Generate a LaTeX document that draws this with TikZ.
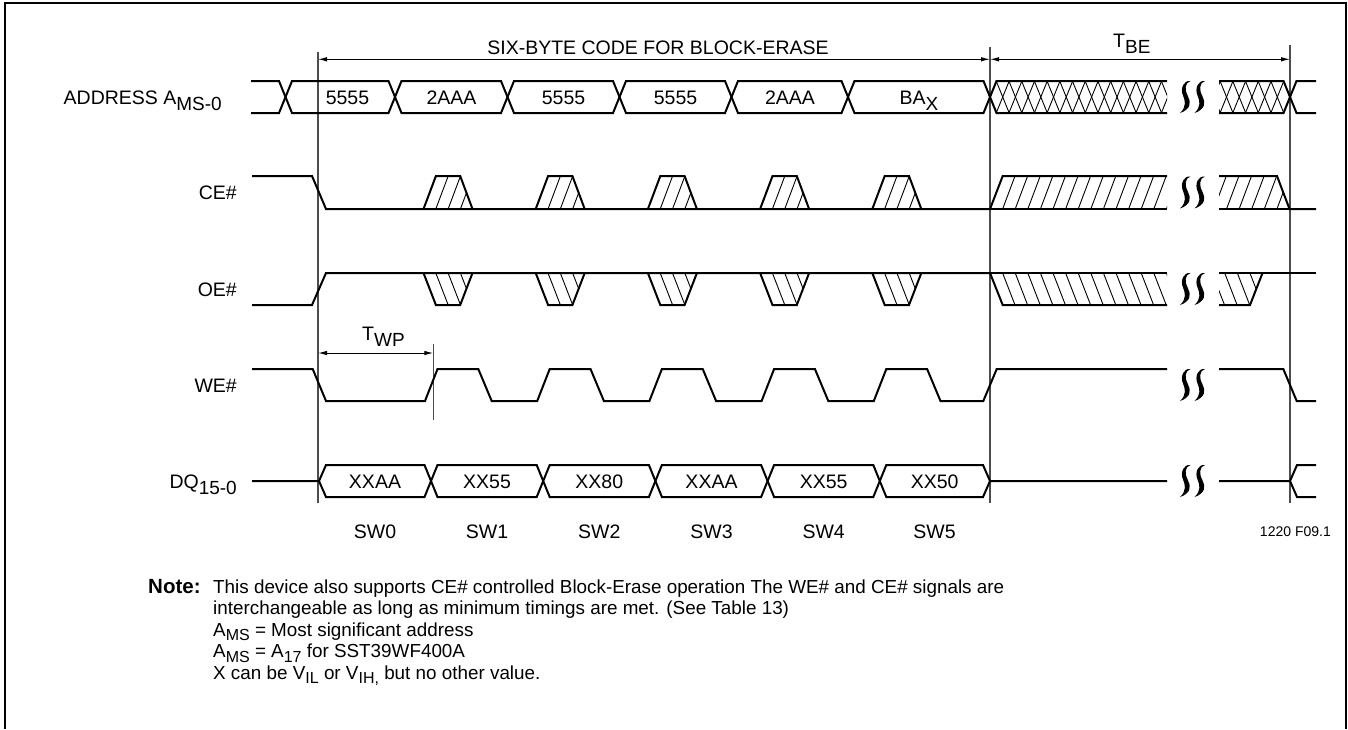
\documentclass[tikz,border=0pt]{standalone}
\usepackage{fontspec}
\setmainfont{Liberation Sans}
\usetikzlibrary{arrows.meta}
\newcommand{\fbig}{\fontsize{19.5}{23}\selectfont}
\newcommand{\fnote}{\fontsize{18.85}{21.5}\selectfont}
\newcommand{\lsub}[1]{\raisebox{-6.5pt}{\fontsize{19}{19}\selectfont #1}}
\newcommand{\nsub}[1]{\raisebox{-4.5pt}{\fontsize{16}{16}\selectfont #1}}
\newcommand{\squig}[2]{%
  \fill ({#1+11},{#2+0.5}) .. controls ({#1+4},{#2-0.5}) and ({#1+0.5},{#2+8}) .. ({#1+3.5},{#2+15})
    .. controls ({#1+5.5},{#2+20}) and ({#1+7.5},{#2+26}) .. ({#1+0.5},{#2+32.5})
    .. controls ({#1+11},{#2+29}) and ({#1+12},{#2+22}) .. ({#1+8.5},{#2+16})
    .. controls ({#1+5},{#2+10}) and ({#1+5},{#2+2}) .. ({#1+11},{#2+0.5}) -- cycle;}
\newcommand{\squigpair}[1]{\squig{1179.5}{#1}\squig{1194}{#1}}
\begin{document}
\begin{tikzpicture}[x=1pt,y=-1pt,
  sig/.style={line width=2pt},
  hatch/.style={line width=0.9pt},
  ref/.style={line width=1.2pt,draw=black!70},
  dim/.style={line width=1pt,{Latex[length=9pt,width=4.5pt]}-{Latex[length=9pt,width=4.5pt]}},
  lbl/.style={inner sep=0pt,font=\fbig},
  note/.style={inner sep=0pt,font=\fnote,anchor=base west}]
\useasboundingbox (0,0) rectangle (1348,729);
% frame
\draw[line width=2.6pt] (5,729) -- (5,3) -- (1346,3) -- (1346,729);

% reference lines
\coordinate (t0) at (318,52);   \coordinate (b0) at (318,503);
\coordinate (t1) at (990,47);   \coordinate (b1) at (990,503);
\coordinate (t2) at (1290,45);  \coordinate (b2) at (1290,503);
\coordinate (tw) at (433.3,344); \coordinate (bw) at (433.3,420);
\draw[ref] (t0) -- (b0);
\draw[ref] (t1) -- (b1);
\draw[ref] (t2) -- (b2);
\draw[ref] (tw) -- (bw);

% dimension arrows
\coordinate (a0) at (318,59.3); \coordinate (a1) at (990,59.3); \coordinate (a2) at (1290,59.3);
\draw[dim] (a0) -- (a1);
\draw[dim] (a1) -- (a2);
\coordinate (w0) at (318,353); \coordinate (w1) at (433.3,353);
\draw[dim] (w0) -- (w1);
\node[lbl,anchor=base] (six) at (658,54.5) {SIX-BYTE CODE FOR BLOCK-ERASE};
\node[lbl,anchor=base west] (tbe) at (1113,47) {T\lsub{BE}};
\node[lbl,anchor=base west] (twp) at (362,340) {T\lsub{WP}};

% row labels
\node[lbl,anchor=base east] (laddr) at (222,104) {ADDRESS A\lsub{MS-0}};
\node[lbl,anchor=base east] (lce) at (237,199.5) {CE\#};
\node[lbl,anchor=base east] (loe) at (237,296) {OE\#};
\node[lbl,anchor=base east] (lwe) at (237,392) {WE\#};
\node[lbl,anchor=base east] (ldq) at (237,488) {DQ\lsub{15-0}};

% ---------- ADDRESS ----------
\draw[sig] (251,81) -- (279,81) -- (292,113) -- (388.5,113) -- (401.5,81) -- (501,81) -- (514,113)
  -- (613,113) -- (626,81) -- (725,81) -- (738,113) -- (841.5,113) -- (854.5,81) -- (983.5,81)
  -- (996.5,113) -- (1167,113);
\draw[sig] (251,113) -- (279,113) -- (292,81) -- (388.5,81) -- (401.5,113) -- (501,113) -- (514,81)
  -- (613,81) -- (626,113) -- (725,113) -- (738,81) -- (841.5,81) -- (854.5,113) -- (983.5,113)
  -- (996.5,81) -- (1167,81);
\begin{scope}
  \clip (990,81) rectangle (1167,113);
  \foreach \k in {0,...,14} {
    \draw[hatch] ({983.5+\k*12.7},81) -- ++(13,32);
    \draw[hatch] ({983.5+\k*12.7},113) -- ++(13,-32);
  }
\end{scope}
\draw[sig] (1219,81) -- (1283.5,81) -- (1296.5,113) -- (1316,113);
\draw[sig] (1219,113) -- (1283.5,113) -- (1296.5,81) -- (1316,81);
\begin{scope}
  \clip (1219,81) rectangle (1290,113);
  \foreach \k in {0,...,6} {
    \draw[hatch] ({1283.5-\k*12.7},81) -- ++(13,32);
    \draw[hatch] ({1283.5-\k*12.7},113) -- ++(13,-32);
  }
\end{scope}
\squigpair{80.5}
\node[lbl,anchor=base] (ad1) at (347.5,104) {5555};
\node[lbl,anchor=base] (ad2) at (451.5,104) {2AAA};
\node[lbl,anchor=base] (ad3) at (563.5,104) {5555};
\node[lbl,anchor=base] (ad4) at (675.5,104) {5555};
\node[lbl,anchor=base] (ad5) at (790,104) {2AAA};
\node[lbl,anchor=base] (ad6) at (919,104) {BA\lsub{X}};

% ---------- CE# ----------
\draw[sig] (252,176) -- (312,176) -- (326,209) -- (990,209) -- (1002.7,176) -- (1167,176);
\draw[sig] (990,209) -- (1167,209);
\foreach \p in {423.5,535.7,647.9,760.1,872.3} {
  \begin{scope}
    \clip (\p,209) -- ({\p+12.4},176) -- ({\p+36.7},176) -- ({\p+49},209) -- cycle;
    \foreach \k in {1,2,3,4} \draw[hatch] ({\p+\k*12.3},209) -- ++(12.4,-33);
  \end{scope}
  \draw[sig] (\p,209) -- ({\p+12.4},176) -- ({\p+36.7},176) -- ({\p+49},209);
}
\begin{scope}
  \clip (990,209) -- (1002.7,176) -- (1167,176) -- (1167,209) -- cycle;
  \foreach \k in {1,...,14} \draw[hatch] ({990+\k*12.6},209) -- ++(12.4,-33);
\end{scope}
\draw[sig] (1219,176) -- (1277,176) -- (1289.5,209) -- (1316,209);
\draw[sig] (1219,209) -- (1289.5,209);
\begin{scope}
  \clip (1219,209) -- (1219,176) -- (1277,176) -- (1289.5,209) -- cycle;
  \foreach \k in {1,...,7} \draw[hatch] ({1289.5-\k*12.6},209) -- ++(12.4,-33);
\end{scope}
\squigpair{176}

% ---------- OE# ----------
\draw[sig] (252,305) -- (312,305) -- (326,273) -- (990,273) -- (1002.7,305) -- (1167,305);
\draw[sig] (990,273) -- (1167,273);
\foreach \p in {423.5,535.7,647.9,760.1,872.3} {
  \begin{scope}
    \clip (\p,273) -- ({\p+12.4},305) -- ({\p+36.7},305) -- ({\p+49},273) -- cycle;
    \foreach \k in {1,2,3,4} \draw[hatch] ({\p+\k*12.3},273) -- ++(12.4,32);
  \end{scope}
  \draw[sig] (\p,273) -- ({\p+12.4},305) -- ({\p+36.7},305) -- ({\p+49},273);
}
\begin{scope}
  \clip (990,273) -- (1002.7,305) -- (1167,305) -- (1167,273) -- cycle;
  \foreach \k in {1,...,14} \draw[hatch] ({990+\k*12.6},273) -- ++(12.4,32);
\end{scope}
\draw[sig] (1219,273) -- (1316,273);
\draw[sig] (1219,305) -- (1250,305) -- (1262.5,273);
\begin{scope}
  \clip (1219,273) -- (1219,305) -- (1250,305) -- (1262.5,273) -- cycle;
  \foreach \k in {1,...,5} \draw[hatch] ({1262.5-\k*12.6},273) -- ++(12.4,32);
\end{scope}
\squigpair{272.5}

% ---------- WE# ----------
\draw[sig] (252,369) -- (312.7,369) -- (326,401)
  -- (425,401) -- (437.5,369) -- (478.3,369) -- (491.7,401)
  -- (537.2,401) -- (549.7,369) -- (590.5,369) -- (603.9,401)
  -- (649.4,401) -- (661.9,369) -- (702.7,369) -- (716.1,401)
  -- (761.6,401) -- (774.1,369) -- (814.9,369) -- (828.3,401)
  -- (873.8,401) -- (886.3,369) -- (927.1,369) -- (940.5,401)
  -- (983.3,401) -- (996.7,369) -- (1167,369);
\draw[sig] (1219,369) -- (1283.3,369) -- (1296.7,401) -- (1316,401);
\squigpair{368.5}

% ---------- DQ ----------
\draw[sig] (252,481) -- (319,481) -- (326,465) -- (424.5,465) -- (437.5,497) -- (536.7,497)
  -- (549.7,465) -- (648.9,465) -- (661.9,497) -- (761.1,497) -- (774.1,465) -- (873.3,465)
  -- (886.3,497) -- (983,497) -- (990,481) -- (1167,481);
\draw[sig] (319,481) -- (326,497) -- (424.5,497) -- (437.5,465) -- (536.7,465) -- (549.7,497)
  -- (648.9,497) -- (661.9,465) -- (761.1,465) -- (774.1,497) -- (873.3,497) -- (886.3,465)
  -- (983,465) -- (990,481);
\draw[sig] (1219,481) -- (1290,481) -- (1297,465) -- (1316,465);
\draw[sig] (1290,481) -- (1297,497) -- (1316,497);
\squigpair{464.5}
\node[lbl,anchor=base] (dq1) at (375,488) {XXAA};
\node[lbl,anchor=base] (dq2) at (487,488) {XX55};
\node[lbl,anchor=base] (dq3) at (599.3,488) {XX80};
\node[lbl,anchor=base] (dq4) at (711.5,488) {XXAA};
\node[lbl,anchor=base] (dq5) at (823.7,488) {XX55};
\node[lbl,anchor=base] (dq6) at (934.6,488) {XX50};

% SW labels
\node[lbl,anchor=base] (sw0) at (375,538) {SW0};
\node[lbl,anchor=base] (sw1) at (487,538) {SW1};
\node[lbl,anchor=base] (sw2) at (599.3,538) {SW2};
\node[lbl,anchor=base] (sw3) at (711.5,538) {SW3};
\node[lbl,anchor=base] (sw4) at (823.7,538) {SW4};
\node[lbl,anchor=base] (sw5) at (934.6,538) {SW5};
\node[inner sep=0pt,anchor=base east,font=\fontsize{14}{16}\selectfont] (fig) at (1331,536) {1220 F09.1};

% note
\node[note,font=\fontsize{20.5}{21.5}\selectfont\bfseries] (nt) at (148,593) {Note:};
\node[note] (n1) at (213,593) {This device also supports CE\# controlled Block-Erase operation The WE\# and CE\# signals are};
\node[note] (n2) at (213,614.5) {interchangeable as long as minimum timings are met. (See Table 13)};
\node[note] (n3) at (213,636) {A\nsub{MS} = Most significant address};
\node[note] (n4) at (213,657.5) {A\nsub{MS} = A\nsub{17} for SST39WF400A};
\node[note] (n5) at (213,679) {X can be V\nsub{IL} or V\nsub{IH,} but no other value.};
\end{tikzpicture}
\end{document}
